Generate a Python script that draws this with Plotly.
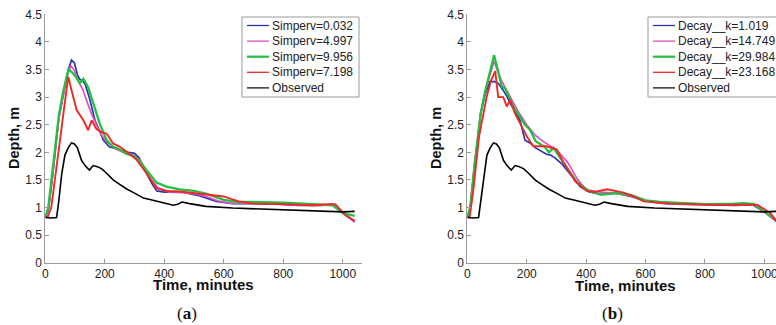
import plotly.graph_objects as go

# ---------------- data ----------------
t_obs = [0, 20, 38, 45, 55, 66, 77, 88, 98, 108, 122, 135, 148, 161, 175, 190, 206, 228, 250, 275,
         300, 330, 362, 400, 430, 445, 460, 485, 540, 630, 740, 850, 960, 1000, 1040]
d_obs = [0.82, 0.81, 0.82, 1.10, 1.60, 1.95, 2.08, 2.17, 2.15, 2.08, 1.85, 1.75, 1.68, 1.76, 1.74, 1.70,
         1.62, 1.50, 1.42, 1.33, 1.26, 1.17, 1.13, 1.08, 1.04, 1.06, 1.10, 1.07, 1.02, 0.99, 0.97, 0.94,
         0.92, 0.92, 0.93]

# panel (a)
t_s1 = [0, 10, 25, 45, 60, 75, 88, 98, 108, 116, 125, 135, 150, 167, 180, 195, 215, 235, 260, 280, 300,
        315, 340, 360, 375, 400, 450, 520, 575, 630, 700, 800, 850, 930, 965, 1000, 1040]
d_s1 = [0.83, 0.95, 1.60, 2.60, 3.05, 3.45, 3.67, 3.62, 3.40, 3.32, 3.30, 3.22, 2.95, 2.58, 2.42, 2.22,
        2.10, 2.07, 2.02, 2.00, 1.98, 1.90, 1.62, 1.42, 1.30, 1.28, 1.29, 1.21, 1.11, 1.07, 1.07, 1.06,
        1.04, 1.04, 1.06, 0.90, 0.75]
t_s2 = [0, 12, 25, 45, 60, 75, 86, 98, 112, 125, 140, 155, 170, 190, 210, 230, 260, 290, 320, 350, 380,
        420, 460, 500, 540, 580, 620, 700, 740, 800, 900, 970, 1000, 1040]
d_s2 = [0.83, 1.00, 1.60, 2.60, 3.00, 3.42, 3.57, 3.48, 3.28, 3.15, 2.92, 2.70, 2.52, 2.30, 2.18, 2.08,
        2.00, 1.97, 1.85, 1.55, 1.35, 1.28, 1.27, 1.25, 1.20, 1.12, 1.08, 1.07, 1.09, 1.05, 1.04, 1.05,
        0.92, 0.73]
t_s3 = [0, 10, 25, 45, 60, 70, 78, 90, 105, 116, 128, 144, 161, 183, 206, 228, 250, 273, 300, 320, 340,
        374, 407, 452, 500, 540, 600, 650, 700, 800, 900, 966, 1000, 1040]
d_s3 = [0.83, 1.00, 1.70, 2.65, 3.10, 3.35, 3.50, 3.45, 3.35, 3.25, 3.33, 3.18, 2.89, 2.52, 2.22, 2.10,
        2.05, 1.97, 1.93, 1.82, 1.68, 1.45, 1.38, 1.33, 1.30, 1.25, 1.14, 1.10, 1.10, 1.09, 1.06, 1.04,
        0.90, 0.85]
t_s4 = [0, 8, 20, 38, 60, 77, 88, 105, 128, 144, 156, 172, 190, 206, 228, 251, 273, 306, 340, 374, 407,
        452, 520, 600, 650, 700, 800, 900, 955, 975, 1011, 1040]
d_s4 = [0.83, 0.83, 1.00, 1.74, 2.60, 3.37, 3.13, 2.77, 2.58, 2.40, 2.58, 2.42, 2.36, 2.34, 2.16, 2.10,
        2.01, 1.87, 1.62, 1.35, 1.30, 1.29, 1.25, 1.20, 1.11, 1.07, 1.06, 1.04, 1.06, 1.06, 0.85, 0.76]

# panel (b)
t_k1 = [0, 10, 25, 45, 60, 76, 93, 104, 120, 135, 144, 160, 177, 194, 211, 230, 250, 265, 280, 295, 320,
        350, 380, 410, 450, 500, 550, 600, 650, 700, 750, 800, 900, 960, 1000, 1040]
d_k1 = [0.83, 1.00, 1.80, 2.70, 3.05, 3.28, 3.28, 3.25, 3.13, 3.00, 2.89, 2.75, 2.59, 2.22, 2.17, 2.08,
        2.02, 1.97, 1.95, 1.90, 1.78, 1.58, 1.38, 1.28, 1.24, 1.26, 1.20, 1.12, 1.08, 1.06, 1.05, 1.05,
        1.04, 1.05, 0.92, 0.75]
t_k2 = [0, 10, 25, 45, 60, 75, 90, 100, 115, 130, 150, 170, 200, 230, 260, 300, 340, 370, 400, 450, 500,
        550, 600, 650, 700, 800, 900, 965, 1000, 1040]
d_k2 = [0.83, 1.00, 1.80, 2.70, 3.10, 3.40, 3.65, 3.50, 3.30, 3.15, 2.95, 2.75, 2.50, 2.30, 2.18, 2.05,
        1.80, 1.52, 1.32, 1.28, 1.26, 1.21, 1.13, 1.08, 1.06, 1.05, 1.05, 1.05, 0.92, 0.76]
t_k3 = [0, 10, 25, 45, 60, 75, 90, 100, 116, 127, 144, 160, 177, 194, 211, 230, 260, 275, 290, 310, 340,
        370, 410, 450, 500, 550, 600, 650, 700, 800, 900, 930, 965, 1000, 1040]
d_k3 = [0.83, 1.00, 1.80, 2.70, 3.10, 3.45, 3.76, 3.55, 3.19, 3.16, 2.95, 2.78, 2.65, 2.50, 2.41, 2.20,
        2.10, 2.00, 2.08, 1.92, 1.70, 1.45, 1.30, 1.23, 1.26, 1.23, 1.13, 1.10, 1.09, 1.06, 1.07, 1.08,
        1.06, 0.92, 0.78]
t_k4 = [0, 8, 20, 40, 65, 80, 94, 104, 121, 133, 144, 160, 183, 200, 222, 245, 267, 301, 324, 363, 402,
        430, 470, 526, 560, 593, 683, 818, 975, 1020, 1040]
d_k4 = [0.83, 0.83, 1.30, 2.30, 3.00, 3.30, 3.47, 3.00, 3.00, 2.83, 2.95, 2.71, 2.47, 2.29, 2.11, 2.11,
        2.11, 2.05, 1.81, 1.48, 1.30, 1.28, 1.33, 1.27, 1.20, 1.11, 1.07, 1.05, 1.05, 0.90, 0.75]

names_a = ["Simperv=0.032", "Simperv=4.997", "Simperv=9.956", "Simperv=7.198", "Observed"]
names_b = ["Decay__k=1.019", "Decay__k=14.749", "Decay__k=29.984", "Decay__k=23.168", "Observed"]
y_ticks = [0, 0.5, 1, 1.5, 2, 2.5, 3, 3.5, 4, 4.5]
x_ticks = [0, 200, 400, 600, 800, 1000]

colors = ["#2a33b0", "#e050c0", "#22c040", "#f02828", "#000000"]
widths = [1.7, 1.7, 2.3, 1.9, 1.6]
legend_widths = [1.3, 1.3, 2.2, 1.3, 1.2]

series_a = [(t_s1, d_s1), (t_s2, d_s2), (t_s3, d_s3), (t_s4, d_s4), (t_obs, d_obs)]
series_b = [(t_k1, d_k1), (t_k2, d_k2), (t_k3, d_k3), (t_k4, d_k4), (t_obs, d_obs)]

# ---------------- figure ----------------
W, H = 776, 325
fig = go.Figure()

for (t, d), name, c, w in zip(series_a, names_a, colors, widths):
    fig.add_trace(go.Scatter(x=t, y=d, mode="lines", name=name, line=dict(color=c, width=w),
                             xaxis="x", yaxis="y"))
for (t, d), name, c, w in zip(series_b, names_b, colors, widths):
    fig.add_trace(go.Scatter(x=t, y=d, mode="lines", name=name, line=dict(color=c, width=w),
                             xaxis="x2", yaxis="y2"))


def px_x(p):
    return p / W


def px_y(p):
    return 1 - p / H


SANS = "Liberation Sans, Arial, sans-serif"
tick_font = dict(family=SANS, size=12, color="#222222")
axis_common = dict(showgrid=False, zeroline=False, showline=True, linecolor="#9a9a9a", linewidth=1,
                   ticks="inside", ticklen=4, tickcolor="#9a9a9a", tickfont=tick_font,
                   ticklabeloverflow="allow")

ydom = [px_y(262.7), px_y(14.3)]
fig.update_layout(
    width=W, height=H,
    margin=dict(l=0, r=0, t=0, b=0, autoexpand=False),
    paper_bgcolor="white", plot_bgcolor="white",
    showlegend=False,
    xaxis=dict(domain=[px_x(45.3), px_x(361.5)], range=[0, 1063], tickvals=x_ticks, anchor="y",
               **axis_common),
    yaxis=dict(domain=ydom, range=[0, 4.5], tickvals=y_ticks, anchor="x", **axis_common),
    xaxis2=dict(domain=[px_x(467.3), 1.0], range=[0, 1039], tickvals=x_ticks, anchor="y2",
                **axis_common),
    yaxis2=dict(domain=ydom, range=[0, 4.5], tickvals=y_ticks, anchor="x2", **axis_common),
)

# ---------------- legends (MATLAB-style boxes) ----------------
def add_legend(names, left, right, top, bottom, first_y, step):
    fig.add_shape(type="rect", xref="paper", yref="paper",
                  x0=px_x(left), x1=px_x(right), y0=px_y(bottom), y1=px_y(top),
                  line=dict(color="#9a9a9a", width=1), fillcolor="white", layer="above")
    for i, (name, c, lw) in enumerate(zip(names, colors, legend_widths)):
        yy = first_y + i * step
        fig.add_shape(type="line", xref="paper", yref="paper",
                      x0=px_x(left + 5), x1=px_x(left + 27), y0=px_y(yy), y1=px_y(yy),
                      line=dict(color=c, width=lw), layer="above")
        fig.add_annotation(text=name, xref="paper", yref="paper", x=px_x(left + 28), y=px_y(yy),
                           xanchor="left", yanchor="middle", showarrow=False,
                           font=dict(family=SANS, size=12, color="#222222"))


add_legend(names_a, 242, 359, 17, 97, 25.5, 15.6)
add_legend(names_b, 648, 800, 17, 97, 25.5, 15.6)

title_font = dict(family=SANS, size=15, color="#111111")
ann = [
    dict(text="<b>Time, minutes</b>", x=px_x(203), y=px_y(284.5), font=title_font),
    dict(text="<b>Time, minutes</b>", x=px_x(625), y=px_y(285), font=title_font),
    dict(text="<b>Depth, m</b>", x=px_x(14), y=px_y(138), textangle=-90,
         font=dict(family=SANS, size=14.5, color="#111111")),
    dict(text="<b>Depth, m</b>", x=px_x(436), y=px_y(138), textangle=-90,
         font=dict(family=SANS, size=14.5, color="#111111")),
    dict(text="(<b>a</b>)", x=px_x(187), y=px_y(313),
         font=dict(family="Liberation Serif, Times New Roman, serif", size=17, color="#111111")),
    dict(text="(<b>b</b>)", x=px_x(612), y=px_y(313),
         font=dict(family="Liberation Serif, Times New Roman, serif", size=17, color="#111111")),
]
for a in ann:
    a.update(xref="paper", yref="paper", showarrow=False, xanchor="center", yanchor="middle")
    fig.add_annotation(**a)

fig.write_html("out.html")
